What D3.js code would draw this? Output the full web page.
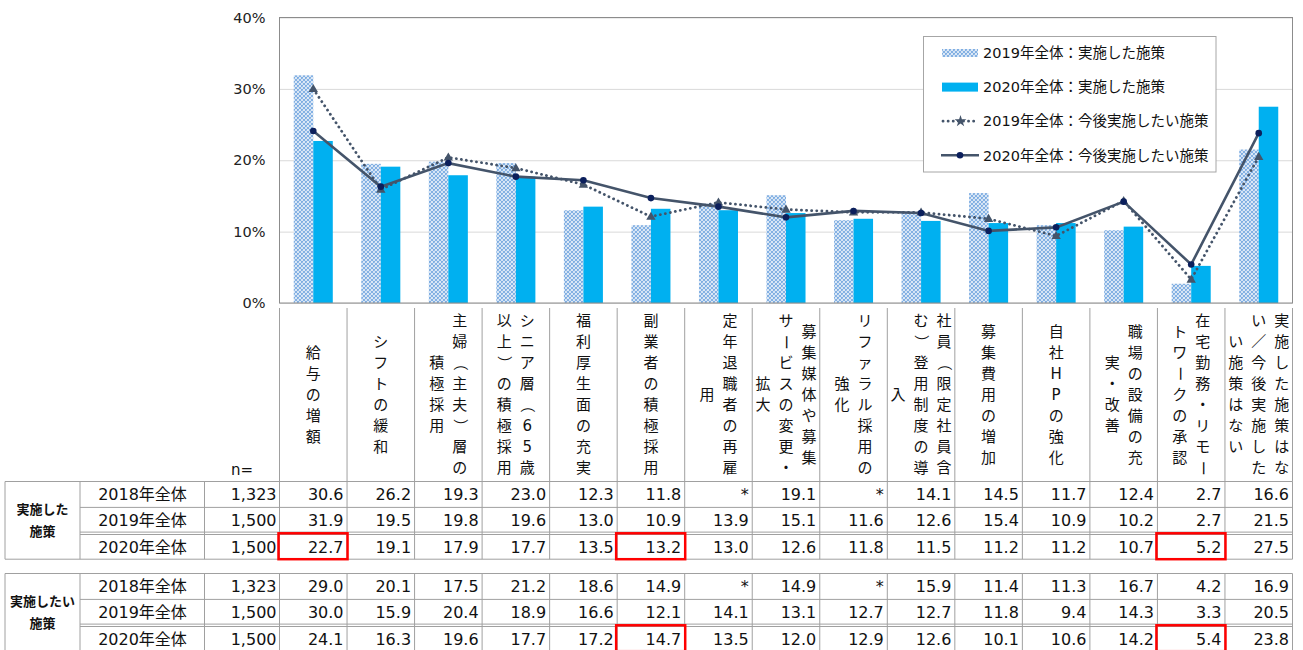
<!DOCTYPE html>
<html>
<head>
<meta charset="utf-8">
<script src="https://cdn.jsdelivr.net/npm/d3@7"></script>
<style>
body { margin: 0; background: #fff; }
svg { display: block; font-family: "DejaVu Sans", "Noto Sans CJK JP", sans-serif; }
</style>
</head>
<body>
<svg id="chart" width="1303" height="650"></svg>
<script>
// category labels, already broken into vertical columns (right column first)
var categories = [
  ["給与の増額"],
  ["シフトの緩和"],
  ["主婦（主夫）層の", "積極採用"],
  ["シニア層（65歳", "以上）の積極採用"],
  ["福利厚生面の充実"],
  ["副業者の積極採用"],
  ["定年退職者の再雇", "用"],
  ["募集媒体や募集", "サービスの変更・", "拡大"],
  ["リファラル採用の", "強化"],
  ["社員（限定社員含", "む）登用制度の導", "入"],
  ["募集費用の増加"],
  ["自社HPの強化"],
  ["職場の設備の充", "実・改善"],
  ["在宅勤務・リモー", "トワークの承認"],
  ["実施した施策はな", "い／今後実施した", "い施策はない"]
];

var impl2018 = [30.6, 26.2, 19.3, 23.0, 12.3, 11.8, null, 19.1, null, 14.1, 14.5, 11.7, 12.4, 2.7, 16.6];
var impl2019 = [31.9, 19.5, 19.8, 19.6, 13.0, 10.9, 13.9, 15.1, 11.6, 12.6, 15.4, 10.9, 10.2, 2.7, 21.5];
var impl2020 = [22.7, 19.1, 17.9, 17.7, 13.5, 13.2, 13.0, 12.6, 11.8, 11.5, 11.2, 11.2, 10.7, 5.2, 27.5];
var plan2018 = [29.0, 20.1, 17.5, 21.2, 18.6, 14.9, null, 14.9, null, 15.9, 11.4, 11.3, 16.7, 4.2, 16.9];
var plan2019 = [30.0, 15.9, 20.4, 18.9, 16.6, 12.1, 14.1, 13.1, 12.7, 12.7, 11.8, 9.4, 14.3, 3.3, 20.5];
var plan2020 = [24.1, 16.3, 19.6, 17.7, 17.2, 14.7, 13.5, 12.0, 12.9, 12.6, 10.1, 10.6, 14.2, 5.4, 23.8];

var rowYears = ["2018年全体", "2019年全体", "2020年全体"];
var nValues = ["1,323", "1,500", "1,500"];
var implHighlight = [0, 5, 13];   // red boxes on the 2020 row
var planHighlight = [5, 13];
var yTicks = [0, 10, 20, 30, 40];
var legendLabels = ["2019年全体：実施した施策", "2020年全体：実施した施策",
                    "2019年全体：今後実施したい施策", "2020年全体：今後実施したい施策"];

var svg = d3.select("#chart");
var plot = {left: 279.5, right: 1292.5, top: 17.5, bottom: 303};
var lineColor = "#44546A", barColor = "#00B0F0", gridColor = "#A0A0A0";

var x = d3.scaleBand().domain(d3.range(categories.length)).range([plot.left, plot.right]);
var bw = x.bandwidth();
var xInner = d3.scaleBand().domain(["2019", "2020"]).range([0, bw]).paddingOuter(0.73);
var y = d3.scaleLinear().domain([0, 40]).range([plot.bottom, plot.top]);

// hatch pattern for the 2019 bars
var pat = svg.append("defs").append("pattern")
    .attr("id", "hatch").attr("patternUnits", "userSpaceOnUse")
    .attr("width", 4).attr("height", 4);
pat.append("rect").attr("width", 4).attr("height", 4).attr("fill", "#fff");
pat.append("path").attr("d", "M0,0L4,4M4,0L0,4M-1,3L1,5M3,-1L5,1")
    .attr("stroke", "#7FAEE2").attr("stroke-width", 1.2);

// y axis + gridlines
var yAxis = svg.append("g")
    .attr("transform", "translate(" + plot.left + ",0)")
    .call(d3.axisLeft(y).tickValues(yTicks).tickSize(-(plot.right - plot.left))
      .tickPadding(14).tickFormat(function(d) { return d + "%"; }));
yAxis.select(".domain").remove();
yAxis.selectAll("line").attr("stroke", "#D9D9D9");
yAxis.selectAll("text").attr("font-size", "14.5px").attr("fill", "#222")
    .attr("font-family", "DejaVu Sans");

// bars
var bars = svg.append("g");
bars.selectAll(".b19").data(impl2019).enter().append("rect")
    .attr("x", function(d, i) { return x(i) + xInner("2019"); })
    .attr("y", function(d) { return y(d); })
    .attr("width", xInner.bandwidth())
    .attr("height", function(d) { return y(0) - y(d); })
    .attr("fill", "url(#hatch)");
bars.selectAll(".b20").data(impl2020).enter().append("rect")
    .attr("x", function(d, i) { return x(i) + xInner("2020"); })
    .attr("y", function(d) { return y(d); })
    .attr("width", xInner.bandwidth())
    .attr("height", function(d) { return y(0) - y(d); })
    .attr("fill", barColor);

// lines
var line = d3.line()
    .x(function(d, i) { return x(i) + bw / 2; })
    .y(function(d) { return y(d); });

svg.append("path").datum(plan2019)
    .attr("d", line).attr("fill", "none")
    .attr("stroke", lineColor).attr("stroke-width", 2.8)
    .attr("stroke-dasharray", "0.1,5").attr("stroke-linecap", "round");
svg.append("g").selectAll("path").data(plan2019).enter().append("path")
    .attr("d", d3.symbol(d3.symbolTriangle, 38))
    .attr("transform", function(d, i) { return "translate(" + (x(i) + bw / 2) + "," + (y(d) + 0.5) + ")"; })
    .attr("fill", lineColor);

svg.append("path").datum(plan2020)
    .attr("d", line).attr("fill", "none")
    .attr("stroke", lineColor).attr("stroke-width", 2.6);
svg.append("g").selectAll("circle").data(plan2020).enter().append("circle")
    .attr("cx", function(d, i) { return x(i) + bw / 2; })
    .attr("cy", function(d) { return y(d); })
    .attr("r", 3.3)
    .attr("fill", "#0B1F5C");

// plot frame
svg.append("rect")
    .attr("x", plot.left).attr("y", plot.top)
    .attr("width", plot.right - plot.left).attr("height", plot.bottom - plot.top)
    .attr("fill", "none").attr("stroke", "#8C8C8C");

// legend
var lg = svg.append("g");
lg.append("rect").attr("x", 923.5).attr("y", 36.5).attr("width", 292.5).attr("height", 135.5)
    .attr("fill", "#fff").attr("stroke", "#A6A6A6");
legendLabels.forEach(function(t, k) {
  var ly = 53 + k * 34.1;
  if (k === 0) {
    lg.append("rect").attr("x", 942).attr("y", ly - 4).attr("width", 36).attr("height", 8).attr("fill", "url(#hatch)");
  } else if (k === 1) {
    lg.append("rect").attr("x", 942).attr("y", ly - 4.5).attr("width", 36).attr("height", 9).attr("fill", barColor);
  } else if (k === 2) {
    lg.append("line").attr("x1", 943).attr("x2", 978).attr("y1", ly).attr("y2", ly)
      .attr("stroke", lineColor).attr("stroke-width", 2.8)
      .attr("stroke-dasharray", "0.1,5").attr("stroke-linecap", "round");
    lg.append("path").attr("d", d3.symbol(d3.symbolStar, 44))
      .attr("transform", "translate(960.5," + ly + ")").attr("fill", lineColor);
  } else {
    lg.append("line").attr("x1", 941).attr("x2", 979).attr("y1", ly).attr("y2", ly)
      .attr("stroke", lineColor).attr("stroke-width", 2.6);
    lg.append("circle").attr("cx", 960).attr("cy", ly).attr("r", 3.3).attr("fill", "#0B1F5C");
  }
  lg.append("text").attr("x", 983).attr("y", ly).attr("dy", "0.36em")
    .attr("font-size", "14.5px").attr("fill", "#111").text(t);
});

// category label area
var labTop = 308, tabTop = 481.5;
var lab = svg.append("g");
x.domain().concat([categories.length]).forEach(function(i) {
  var xx = i < categories.length ? x(i) : plot.right;
  lab.append("line").attr("x1", xx).attr("x2", xx).attr("y1", labTop).attr("y2", tabTop)
    .attr("stroke", gridColor);
});
var rotated = "（）ー";
categories.forEach(function(cols, i) {
  var cx = x(i) + bw / 2, cy = (labTop + tabTop) / 2;
  cols.forEach(function(col, j) {
    var chars = Array.from(col);
    var colX = cx + ((cols.length - 1) / 2 - j) * 23;
    chars.forEach(function(ch, k) {
      var cyk = cy + (k - (chars.length - 1) / 2) * 21;
      var t = lab.append("text")
        .attr("x", colX).attr("y", cyk)
        .attr("text-anchor", "middle").attr("dominant-baseline", "central")
        .attr("font-size", "15px").attr("fill", "#111")
        .text(ch);
      if (rotated.indexOf(ch) >= 0) t.attr("transform", "rotate(90," + colX + "," + cyk + ")");
    });
  });
});
lab.append("text").attr("x", 231).attr("y", 475).attr("font-size", "15px").attr("fill", "#111").text("n=");

// tables
var rowH = 25.9;
var colEdges = [5, 80, 204.5].concat(x.domain().map(function(i) { return x(i); })).concat([plot.right]);

function drawTable(top, title, series, highlight) {
  var g = svg.append("g");
  var bottom = top + rowH * 3;
  // horizontal rules
  g.append("line").attr("x1", 5).attr("x2", plot.right).attr("y1", top).attr("y2", top);
  g.append("line").attr("x1", 80).attr("x2", plot.right).attr("y1", top + rowH).attr("y2", top + rowH);
  g.append("line").attr("x1", 80).attr("x2", plot.right).attr("y1", top + rowH * 2 - 1.2).attr("y2", top + rowH * 2 - 1.2);
  g.append("line").attr("x1", 80).attr("x2", plot.right).attr("y1", top + rowH * 2 + 1.2).attr("y2", top + rowH * 2 + 1.2);
  g.append("line").attr("x1", 5).attr("x2", plot.right).attr("y1", bottom).attr("y2", bottom);
  colEdges.forEach(function(e) {
    g.append("line").attr("x1", e).attr("x2", e).attr("y1", top).attr("y2", bottom);
  });
  g.selectAll("line").attr("stroke", gridColor).attr("stroke-width", 1);

  // group title
  var mid = top + rowH * 1.5;
  title.forEach(function(t, k) {
    g.append("text").attr("x", 42.5).attr("y", mid + (k - (title.length - 1) / 2) * 21.5)
      .attr("dy", "0.36em").attr("text-anchor", "middle")
      .attr("font-size", "13px").attr("font-weight", "bold").attr("fill", "#111").text(t);
  });

  series.forEach(function(vals, r) {
    var cy = top + rowH * r + rowH / 2 + (r === 2 ? 1 : 0);
    g.append("text").attr("x", 142.5).attr("y", cy).attr("dy", "0.36em")
      .attr("text-anchor", "middle").attr("font-size", "16px").attr("fill", "#111").text(rowYears[r]);
    g.append("text").attr("x", 276.5).attr("y", cy).attr("dy", "0.36em")
      .attr("text-anchor", "end").attr("font-size", "16px").attr("fill", "#111").text(nValues[r]);
    vals.forEach(function(v, i) {
      g.append("text").attr("x", x(i) + bw - 3.5).attr("y", cy).attr("dy", "0.36em")
        .attr("text-anchor", "end").attr("font-size", "16px").attr("fill", "#111")
        .text(v === null ? "*" : v.toFixed(1));
    });
  });

  highlight.forEach(function(i) {
    g.append("rect")
      .attr("x", x(i) - 1).attr("y", top + rowH * 2)
      .attr("width", bw + 1.5).attr("height", rowH)
      .attr("fill", "none").attr("stroke", "#FF0000").attr("stroke-width", 2.5);
  });
}

drawTable(tabTop, ["実施した", "施策"], [impl2018, impl2019, impl2020], implHighlight);
drawTable(573.5, ["実施したい", "施策"], [plan2018, plan2019, plan2020], planHighlight);
</script>
</body>
</html>
